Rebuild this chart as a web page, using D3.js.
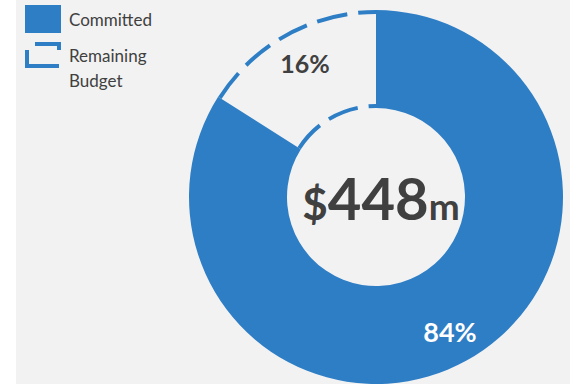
<!DOCTYPE html>
<html>
<head>
<meta charset="utf-8">
<script src="https://cdn.jsdelivr.net/npm/d3@7"></script>
<style>
  html, body { margin: 0; padding: 0; background: #ffffff; }
  svg { display: block; }
  text { font-family: Lato, "Open Sans", "DejaVu Sans", sans-serif; }
</style>
</head>
<body>
<svg id="chart" width="570" height="384"></svg>
<script>
// Budget split
const categories = ["Committed", "Remaining Budget"];
const shares = [84, 16];
const shareLabels = ["84%", "16%"];
const totalLabel = { prefix: "$", value: "448", suffix: "m" };

const W = 570, H = 384;
const blue = "#2e7ec6";
const panel = "#f2f2f2";
const ink = "#404040";

const svg = d3.select("#chart");

// grey panel behind everything
svg.append("rect").attr("x", 16).attr("y", 0).attr("width", W - 16).attr("height", H).attr("fill", panel);

const cx = 376, cy = 197, rOuter = 187, rInner = 89;
const g = svg.append("g").attr("transform", `translate(${cx},${cy})`);

const pie = d3.pie().sort(null).value(d => d.v);
const arcs = pie(categories.map((c, i) => ({ c, v: shares[i], label: shareLabels[i] })));
const arc = d3.arc().innerRadius(rInner).outerRadius(rOuter);

// Remaining budget: dashed outer and inner rims only
const rem = arcs[1];
function rimPath(r, a0, a1) {
  const p = d3.path();
  // d3.pie angles are clockwise from 12 o'clock; d3.path uses the x-axis
  p.arc(0, 0, r, a0 - Math.PI / 2, a1 - Math.PI / 2, false);
  return p.toString();
}
const sw = 4;
[rOuter - sw / 2, rInner + sw / 2].forEach(r => {
  g.append("path")
    .attr("d", rimPath(r, rem.startAngle, rem.endAngle))
    .attr("fill", "none")
    .attr("stroke", blue)
    .attr("stroke-width", sw)
    .attr("stroke-dasharray", "31 11");
});

// Committed: solid slice
g.append("path").attr("d", arc(arcs[0])).attr("fill", blue);

// Slice labels
const labelArc = d3.arc().innerRadius(rInner).outerRadius(rOuter);
const c84 = labelArc.centroid(arcs[0]);
g.append("text")
  .attr("x", 450 - cx).attr("y", 342 - cy)
  .attr("text-anchor", "middle")
  .attr("font-size", 27).attr("font-weight", 700)
  .attr("fill", "#ffffff")
  .text(arcs[0].data.label);
g.append("text")
  .attr("x", 305 - cx).attr("y", 73 - cy)
  .attr("text-anchor", "middle")
  .attr("font-size", 25).attr("font-weight", 700)
  .attr("fill", ink)
  .text(arcs[1].data.label);

// Centre total
const t = g.append("text")
  .attr("x", 5).attr("y", 220 - cy)
  .attr("text-anchor", "middle")
  .attr("fill", ink).attr("font-weight", 700);
t.append("tspan").attr("font-size", 44).text(totalLabel.prefix);
t.append("tspan").attr("font-size", 58).text(totalLabel.value);
t.append("tspan").attr("font-size", 37).text(totalLabel.suffix);

// Legend
const lg = svg.append("g");
lg.append("rect").attr("x", 25).attr("y", 5).attr("width", 36).attr("height", 28).attr("fill", blue);
lg.append("path")
  .attr("d", "M35,44H59V50M59,66H27V50")
  .attr("fill", "none").attr("stroke", blue).attr("stroke-width", 4);
lg.append("text").attr("x", 69).attr("y", 26).attr("font-size", 17).attr("fill", ink).text(categories[0]);
const words = categories[1].split(" ");
lg.append("text").attr("x", 69).attr("y", 62).attr("font-size", 17).attr("fill", ink).text(words[0]);
lg.append("text").attr("x", 69).attr("y", 87).attr("font-size", 17).attr("fill", ink).text(words[1]);
</script>
</body>
</html>
